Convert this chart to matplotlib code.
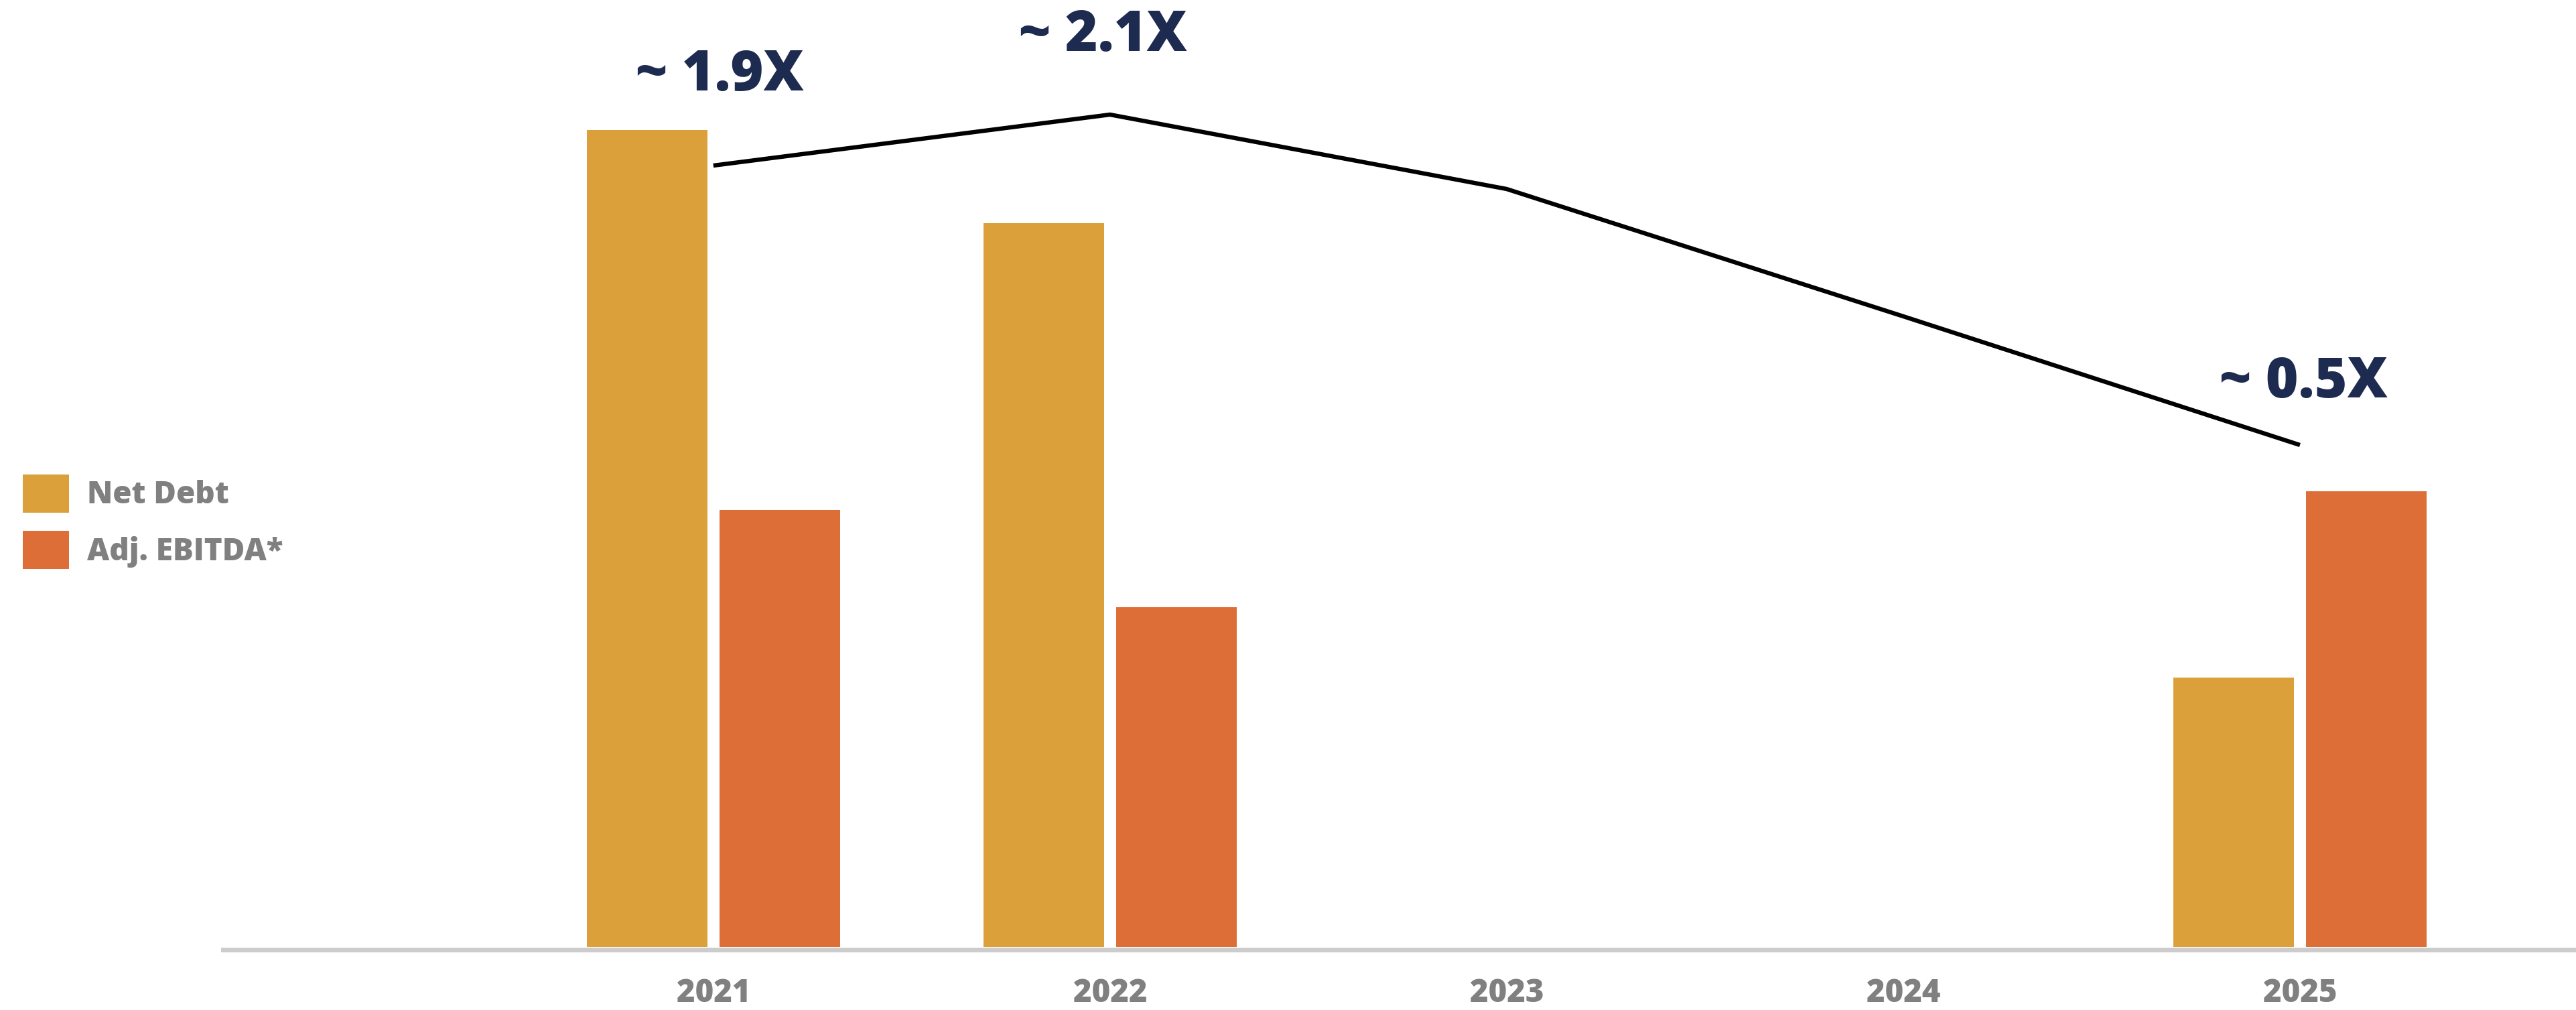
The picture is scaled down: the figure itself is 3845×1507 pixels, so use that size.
import matplotlib.pyplot as plt
from matplotlib.patches import Patch
from matplotlib import font_manager as fm
import numpy as np

years = ['2021', '2022', '2023', '2024', '2025']
net_debt = [1219, 1080, np.nan, np.nan, 402]
adj_ebitda = [652, 507, np.nan, np.nan, 680]
leverage_line = [1166, 1242, 1131, 941, 749]
ratio_labels = ['~ 1.9X', '~ 2.1X', '~ 0.5X']

c_debt = '#dba03a'
c_ebitda = '#de6e38'
c_navy = '#1e2b50'
c_grey = '#808080'

plt.rcParams['font.family'] = ['Open Sans', 'DejaVu Sans']

for f in fm.fontManager.ttflist:
    if 'Open Sans' in f.name:
        print(f.name, f.weight, f.fname)

fig = plt.figure(figsize=(38.45, 15.07), dpi=100)
W, H = 3845, 1507
ax = fig.add_axes([333 / W, (H - 1416.5) / H, 1 - 333 / W, 1416.5 / H])

x = np.arange(len(years))
bw = 0.304
off = 0.167
ax.bar(x - off, net_debt, bw, color=c_debt, zorder=2)
ax.bar(x + off, adj_ebitda, bw, color=c_ebitda, zorder=2)
ax.plot(x, leverage_line, color='black', linewidth=4.6, zorder=3, solid_capstyle='butt')

# ratio labels above the line
lab_pos = [(0.017, 1278), (0.983, 1337), (4.01, 820)]
for txt, (lx, ly) in zip(ratio_labels, lab_pos):
    ax.text(lx, ly, txt, ha='center', va='baseline', fontsize=60,
            fontweight=800, color=c_navy)

ax.set_xlim(-1.236, 4.696)
ax.set_ylim(-3.5, 1413)
for s in ['top', 'right', 'left']:
    ax.spines[s].set_visible(False)
ax.spines['bottom'].set_color('#cccccc')
ax.spines['bottom'].set_linewidth(5)
ax.spines['bottom'].set_zorder(1)
ax.set_yticks([])
ax.set_xticks(x)
ax.set_xticklabels(years, fontsize=34, fontweight=800, color=c_grey)
ax.tick_params(axis='x', length=0, pad=30.6)

handles = [Patch(facecolor=c_debt, linewidth=0, label='Net Debt'),
           Patch(facecolor=c_ebitda, linewidth=0, label='Adj. EBITDA*')]
leg = fig.legend(handles=handles, loc='upper left',
                 bbox_to_anchor=(34 / W, 1 - 708 / H), frameon=False,
                 prop={'size': 33, 'weight': 800},
                 handlelength=1.5, handleheight=1.52,
                 handletextpad=0.6, labelspacing=0.61, borderpad=0,
                 borderaxespad=0)
for t in leg.get_texts():
    t.set_color(c_grey)

fig.savefig('out.png', dpi=100)
